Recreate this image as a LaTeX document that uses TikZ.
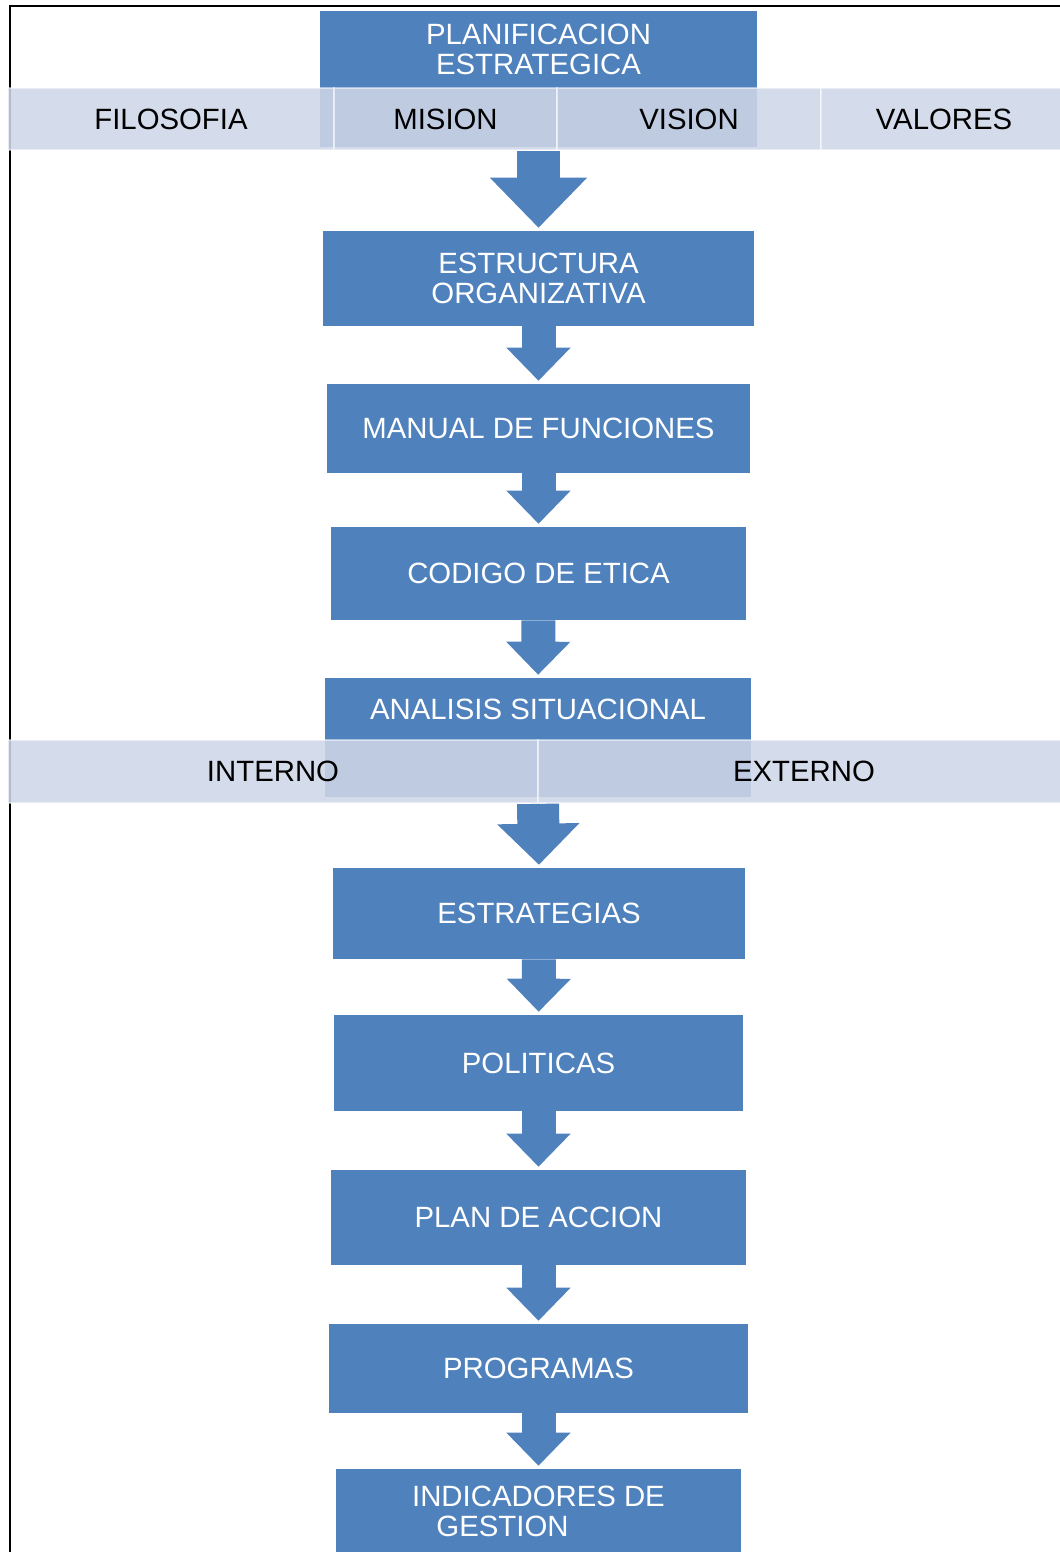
\documentclass[tikz,border=0pt]{standalone}
\usepackage{fontspec}
\setmainfont{Liberation Sans}
\usetikzlibrary{arrows.meta}
\definecolor{cajaazul}{RGB}{79,129,189}
\definecolor{franja}{RGB}{206,214,231}
\tikzset{
  caja/.style={fill=cajaazul, text=white, align=center, inner sep=0pt,
    font=\fontsize{16.7}{17}\selectfont},
  franjaseg/.style={fill=franja, fill opacity=.88, text opacity=1, draw=white,
    draw opacity=.5, line width=1pt, inner sep=0pt, minimum height=1.24cm,
    font=\fontsize{16.7}{17}\selectfont},
  flecha/.style={draw=cajaazul, line width=0.68cm, shorten >=0.06cm,
    -{Triangle[width=1.28cm,length=0.66cm,line width=1pt]}},
  flechagrande/.style={draw=cajaazul, line width=0.86cm, shorten >=0.06cm,
    -{Triangle[width=1.94cm,length=1.0cm,line width=1pt]}}
}

\begin{document}
\begin{tikzpicture}[x=0.02cm, y=-0.02cm]
      \useasboundingbox (0,0) rectangle (1060,1552);
      \draw [line width=1.1pt] (10,1552) -- (10,6) -- (1060,6);

      % cajas
      \node [caja, minimum width=8.74cm, minimum height=1.54cm] (planif) at (538.5,49.5) {PLANIFICACION\\ESTRATEGICA};
      \fill [cajaazul] (320,88) rectangle (757,147);
      \node [caja, minimum width=8.62cm, minimum height=1.9cm] (estructura) at (538.5,278.5) {ESTRUCTURA\\ORGANIZATIVA};
      \node [caja, minimum width=8.46cm, minimum height=1.78cm] (manual) at (538.5,428.5) {MANUAL DE FUNCIONES};
      \node [caja, minimum width=8.3cm, minimum height=1.86cm] (codigo) at (538.5,573.5) {CODIGO DE ETICA};
      \node [caja, minimum width=8.52cm, minimum height=1.24cm] (analisis) at (538,709) {ANALISIS SITUACIONAL};
      \fill [cajaazul] (325,740) rectangle (751,797);
      \node [caja, minimum width=8.24cm, minimum height=1.82cm] (estrategias) at (539,913.5) {ESTRATEGIAS};
      \node [caja, minimum width=8.18cm, minimum height=1.92cm] (politicas) at (538.5,1063) {POLITICAS};
      \node [caja, minimum width=8.3cm, minimum height=1.9cm] (plan) at (538.5,1217.5) {PLAN DE ACCION};
      \node [caja, minimum width=8.38cm, minimum height=1.78cm] (programas) at (538.5,1368.5) {PROGRAMAS};
      \node [caja, minimum width=8.1cm, minimum height=1.68cm] (indicadores) at (538.5,1511) {INDICADORES DE\\GESTION\hspace*{1.44cm}};

      % franjas
      \node [franjaseg, minimum width=6.52cm] (filosofia) at (171,119) {FILOSOFIA};
      \node [franjaseg, minimum width=4.46cm] (mision) at (445.5,119) {MISION};
      \node [franjaseg, minimum width=5.28cm] (vision) at (689,119) {VISION};
      \node [franjaseg, minimum width=4.92cm] (valores) at (944,119) {VALORES};
      \node [franjaseg, minimum width=10.6cm, minimum height=1.26cm] (interno) at (273,771.5) {INTERNO};
      \node [franjaseg, minimum width=10.64cm, minimum height=1.26cm] (externo) at (804,771.5) {EXTERNO};

      % flechas
      \draw [flechagrande] (planif |- mision.south) -- (estructura.north);
      \draw [flecha] (estructura) -- (manual);
      \draw [flecha] (manual) -- (codigo);
      \draw [flecha] (codigo) -- (analisis);
      \draw [flecha, line width=0.84cm, -{Triangle[width=1.64cm,length=0.82cm,line width=1pt]}] (analisis |- interno.south) -- (estrategias.north);
      \draw [flecha] (estrategias) -- (politicas);
      \draw [flecha] (politicas) -- (plan);
      \draw [flecha] (plan) -- (programas);
      \draw [flecha] (programas) -- (indicadores);
    \end{tikzpicture}
\end{document}
